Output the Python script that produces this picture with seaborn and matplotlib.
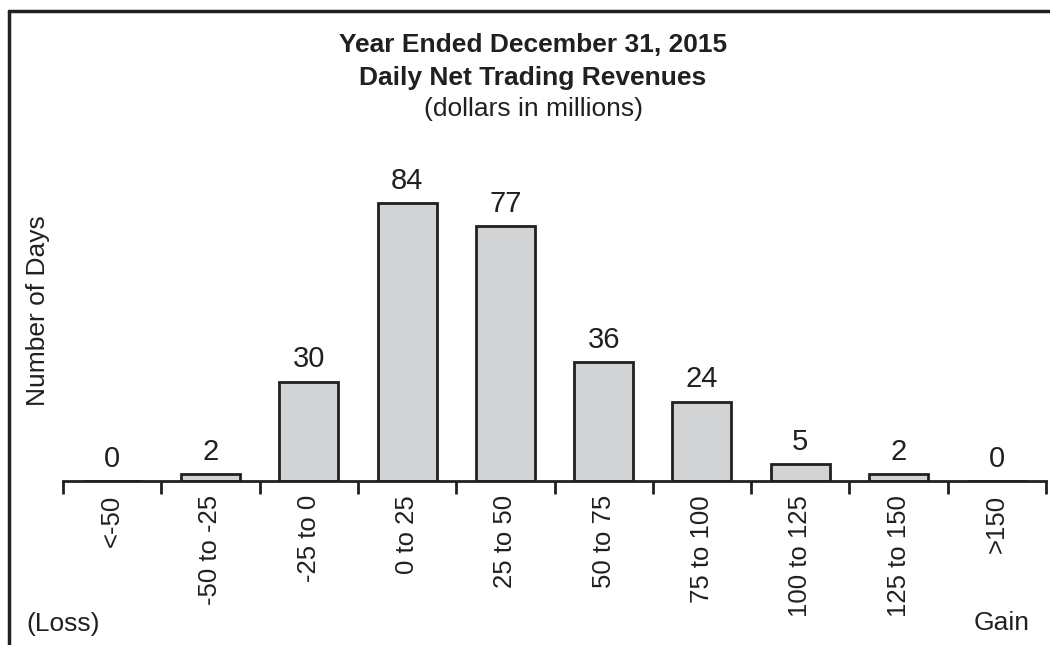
"""Daily net trading revenues histogram, year ended December 31, 2015."""

import matplotlib
matplotlib.use('Agg')
import matplotlib.pyplot as plt
import numpy as np
import pandas as pd
import seaborn as sns
from matplotlib.lines import Line2D

ranges = ['<-50', '-50 to -25', '-25 to 0', '0 to 25', '25 to 50',
          '50 to 75', '75 to 100', '100 to 125', '125 to 150', '>150']
days = [0, 2, 30, 84, 77, 36, 24, 5, 2, 0]

INK = '#231f20'
FILL = '#d1d3d4'

sns.set_theme(style='white')
plt.rcParams['font.family'] = ['Liberation Sans', 'DejaVu Sans']
plt.rcParams['text.color'] = INK

df = pd.DataFrame({'range': ranges, 'days': days})

fig = plt.figure(figsize=(10.5, 6.45), dpi=100)
ax = fig.add_axes([63 / 1050, (645 - 481) / 645, (1046 - 63) / 1050, 331 / 645])

sns.barplot(data=df, x='range', y='days', order=ranges, color=FILL,
            edgecolor=INK, linewidth=2, width=0.6, saturation=1, ax=ax)
ax.bar_label(ax.containers[0], padding=6, fontsize=21, color=INK)

ax.set_xlim(-0.5, len(ranges) - 0.5)
ax.set_ylim(0, 100)
ax.set_xlabel('')
ax.set_ylabel('')
ax.set_yticks([])
for side in ('left', 'top', 'right'):
    ax.spines[side].set_visible(False)
ax.spines['bottom'].set_linewidth(2)
ax.spines['bottom'].set_color(INK)

# boundary ticks carry no labels, centre ticks carry the labels
ax.set_xticks(np.arange(-0.5, len(ranges), 1))
ax.set_xticklabels([])
ax.set_xticks(np.arange(len(ranges)), minor=True)
ax.set_xticklabels(ranges, minor=True, rotation=90, fontsize=18.5, color=INK, va='top')
ax.tick_params(axis='x', which='major', bottom=True, length=9, width=2, color=INK, direction='out')
ax.tick_params(axis='x', which='minor', bottom=True, length=0, pad=10)

cx = 533 / 1050
fig.text(cx, 1 - 45 / 645, 'Year Ended December 31, 2015', ha='center', va='center',
         fontsize=19, fontweight='bold')
fig.text(cx, 1 - 78 / 645, 'Daily Net Trading Revenues', ha='center', va='center',
         fontsize=19, fontweight='bold')
fig.text(cx, 1 - 109 / 645, '(dollars in millions)', ha='center', va='center', fontsize=19)

fig.text(38 / 1050, 1 - 311 / 645, 'Number of Days', rotation=90, ha='center', va='center',
         fontsize=19)
fig.text(26 / 1050, 1 - 624 / 645, '(Loss)', ha='left', va='center', fontsize=19)
fig.text(1030 / 1050, 1 - 623 / 645, 'Gain', ha='right', va='center', fontsize=19)

# frame, open on the right and bottom as in the source
fig.add_artist(Line2D([9 / 1050, 9 / 1050], [0, 1 - 11 / 645], transform=fig.transFigure,
                      color=INK, linewidth=2.5))
fig.add_artist(Line2D([9 / 1050, 1], [1 - 11 / 645, 1 - 11 / 645], transform=fig.transFigure,
                      color=INK, linewidth=2.5))

fig.savefig('out.png', dpi=100)
